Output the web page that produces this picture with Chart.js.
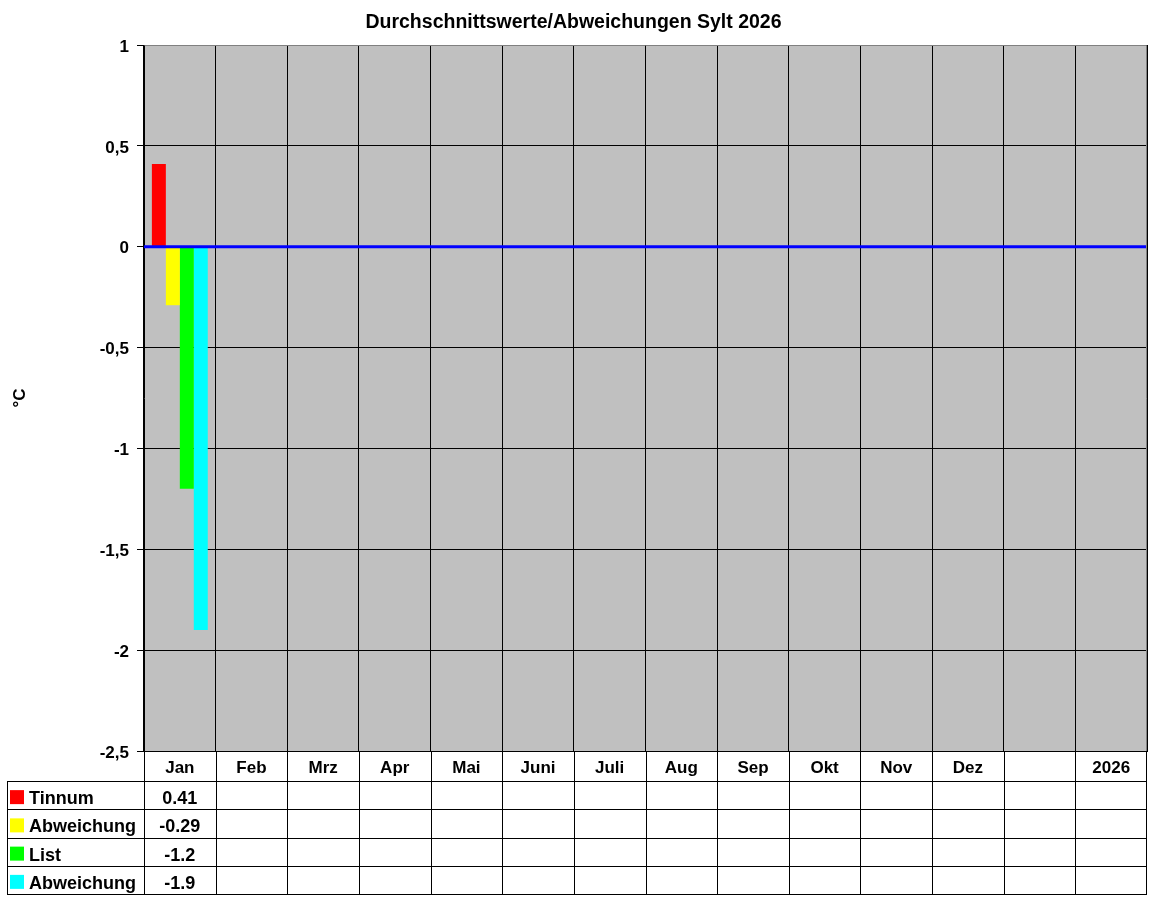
<!DOCTYPE html>
<html lang="de">
<head>
<meta charset="utf-8">
<title>Durchschnittswerte/Abweichungen Sylt 2026</title>
<script src="https://cdn.jsdelivr.net/npm/chart.js@4.4.1/dist/chart.umd.min.js"></script>
<style>
  html, body { margin: 0; padding: 0; background: #fff; }
  #wrap { width: 1152px; height: 900px; }
</style>
</head>
<body>
<div id="wrap"><canvas id="syltChart" width="1152" height="900"></canvas></div>
<script>
// ── Data ───────────────────────────────────────────────────────────────────
const months = ['Jan','Feb','Mrz','Apr','Mai','Juni','Juli','Aug','Sep','Okt','Nov','Dez','','2026'];
const tinnum        = [0.41, null, null, null, null, null, null, null, null, null, null, null, null, null];
const tinnumAbw     = [-0.29, null, null, null, null, null, null, null, null, null, null, null, null, null];
const list          = [-1.2, null, null, null, null, null, null, null, null, null, null, null, null, null];
const listAbw       = [-1.9, null, null, null, null, null, null, null, null, null, null, null, null, null];
const seriesNames   = ['Tinnum', 'Abweichung', 'List', 'Abweichung'];
const seriesColors  = ['#FF0000', '#FFFF00', '#00FF00', '#00FFFF'];
const yTicks        = { min: -2.5, max: 1, step: 0.5 };

const FONT = 'Arial, "Liberation Sans", sans-serif';
const ROW_H = 28.25;
const CAT_ROW = 30;

// ── Plot background + border ───────────────────────────────────────────────
const plotBg = {
  id: 'plotBg',
  beforeDraw(chart) {
    const { ctx, chartArea: a } = chart;
    ctx.save();
    ctx.fillStyle = '#C0C0C0';
    ctx.fillRect(a.left, a.top, a.right - a.left, a.bottom - a.top);
    ctx.restore();
  }
};

// ── Zero line (drawn over the bars) ────────────────────────────────────────
const zeroLine = {
  id: 'zeroLine',
  afterDatasetsDraw(chart) {
    const { ctx, chartArea: a, scales: { y } } = chart;
    const py = y.getPixelForValue(0);
    ctx.save();
    ctx.strokeStyle = '#0000FF';
    ctx.lineWidth = 3;
    ctx.beginPath();
    ctx.moveTo(a.left, py);
    ctx.lineTo(a.right, py);
    ctx.stroke();
    ctx.restore();
  }
};

// ── Data table under the axis ──────────────────────────────────────────────
const dataTable = {
  id: 'dataTable',
  afterDraw(chart) {
    const { ctx, chartArea: a, scales: { x } } = chart;
    const series = chart.data.datasets.map(d => d.data);
    const half = (x.getPixelForValue(1) - x.getPixelForValue(0)) / 2;
    const top = a.bottom + CAT_ROW;
    const bottom = top + ROW_H * series.length;
    const left = 7;
    const crisp = v => Math.round(v) + 0.5;

    ctx.save();
    // gray frame on top / right of plot
    ctx.strokeStyle = '#808080';
    ctx.lineWidth = 1;
    ctx.beginPath();
    ctx.moveTo(crisp(a.left), crisp(a.top));
    ctx.lineTo(crisp(a.right) - 1, crisp(a.top));
    ctx.lineTo(crisp(a.right) - 1, crisp(a.bottom));
    ctx.stroke();

    ctx.strokeStyle = '#000';
    ctx.beginPath();
    // column boundaries
    for (let i = 0; i <= months.length; i++) {
      const px = crisp(x.getPixelForValue(i) - half) - (i === months.length ? 1 : 0);
      ctx.moveTo(px, a.bottom);
      ctx.lineTo(px, bottom);
    }
    ctx.moveTo(crisp(left), top);
    ctx.lineTo(crisp(left), bottom);
    // row lines
    ctx.moveTo(a.left, crisp(a.bottom));
    ctx.lineTo(a.right, crisp(a.bottom));
    for (let r = 0; r <= series.length; r++) {
      const py = crisp(top + r * ROW_H);
      ctx.moveTo(left, py);
      ctx.lineTo(a.right, py);
    }
    ctx.stroke();

    // legend keys + values
    ctx.font = 'bold 18px ' + FONT;
    ctx.textBaseline = 'middle';
    series.forEach((vals, r) => {
      const cy = top + r * ROW_H + ROW_H / 2 + 2;
      ctx.fillStyle = seriesColors[r];
      ctx.fillRect(10, cy - 7, 14, 14);
      ctx.fillStyle = '#000';
      ctx.textAlign = 'left';
      ctx.fillText(seriesNames[r], 29, cy + 2);
      ctx.textAlign = 'center';
      vals.forEach((v, i) => {
        if (v === null) return;
        ctx.fillText(String(v), x.getPixelForValue(i), cy + 2);
      });
    });
    ctx.restore();
  }
};

// ── Chart ──────────────────────────────────────────────────────────────────
function buildChart() {
  const ctx = document.getElementById('syltChart');
  Chart.defaults.font.family = FONT;
  Chart.defaults.color = '#000';

  new Chart(ctx, {
    type: 'bar',
    data: {
      labels: months,
      datasets: [tinnum, tinnumAbw, list, listAbw].map((d, i) => ({
        label: seriesNames[i],
        data: d,
        backgroundColor: seriesColors[i],
        borderWidth: 0,
        categoryPercentage: 0.78,
        barPercentage: 1
      }))
    },
    options: {
      responsive: false,
      animation: false,
      devicePixelRatio: 1,
      layout: { padding: { left: 0, right: 5, top: 0, bottom: 119 } },
      plugins: {
        legend: { display: false },
        tooltip: { enabled: false },
        title: {
          display: true,
          text: 'Durchschnittswerte/Abweichungen Sylt 2026',
          color: '#000',
          font: { family: FONT, size: 19.5, weight: 'bold' },
          padding: { top: 11, bottom: 10.6 }
        }
      },
      scales: {
        x: {
          offset: true,
          grid: { color: '#000', lineWidth: 1, drawTicks: false, offset: true },
          border: { color: '#000' },
          ticks: { color: '#000', font: { size: 17, weight: 'bold' }, padding: 7, maxRotation: 0, autoSkip: false },
          afterFit: s => { s.height = CAT_ROW; }
        },
        y: {
          min: yTicks.min,
          max: yTicks.max,
          grid: { color: '#000', lineWidth: 1, tickLength: 7 },
          border: { color: '#000' },
          ticks: {
            stepSize: yTicks.step,
            color: '#000',
            padding: 8,
            labelOffset: 2,
            font: { size: 17, weight: 'bold' },
            callback: v => String(v).replace('.', ',')
          },
          title: { display: true, text: '°C', color: '#000', font: { size: 17, weight: 'bold' }, padding: { top: 10, bottom: 4 } },
          afterFit: s => { s.width = 144; }
        }
      }
    },
    plugins: [plotBg, zeroLine, dataTable]
  });
}

document.addEventListener('DOMContentLoaded', buildChart);
</script>
</body>
</html>
